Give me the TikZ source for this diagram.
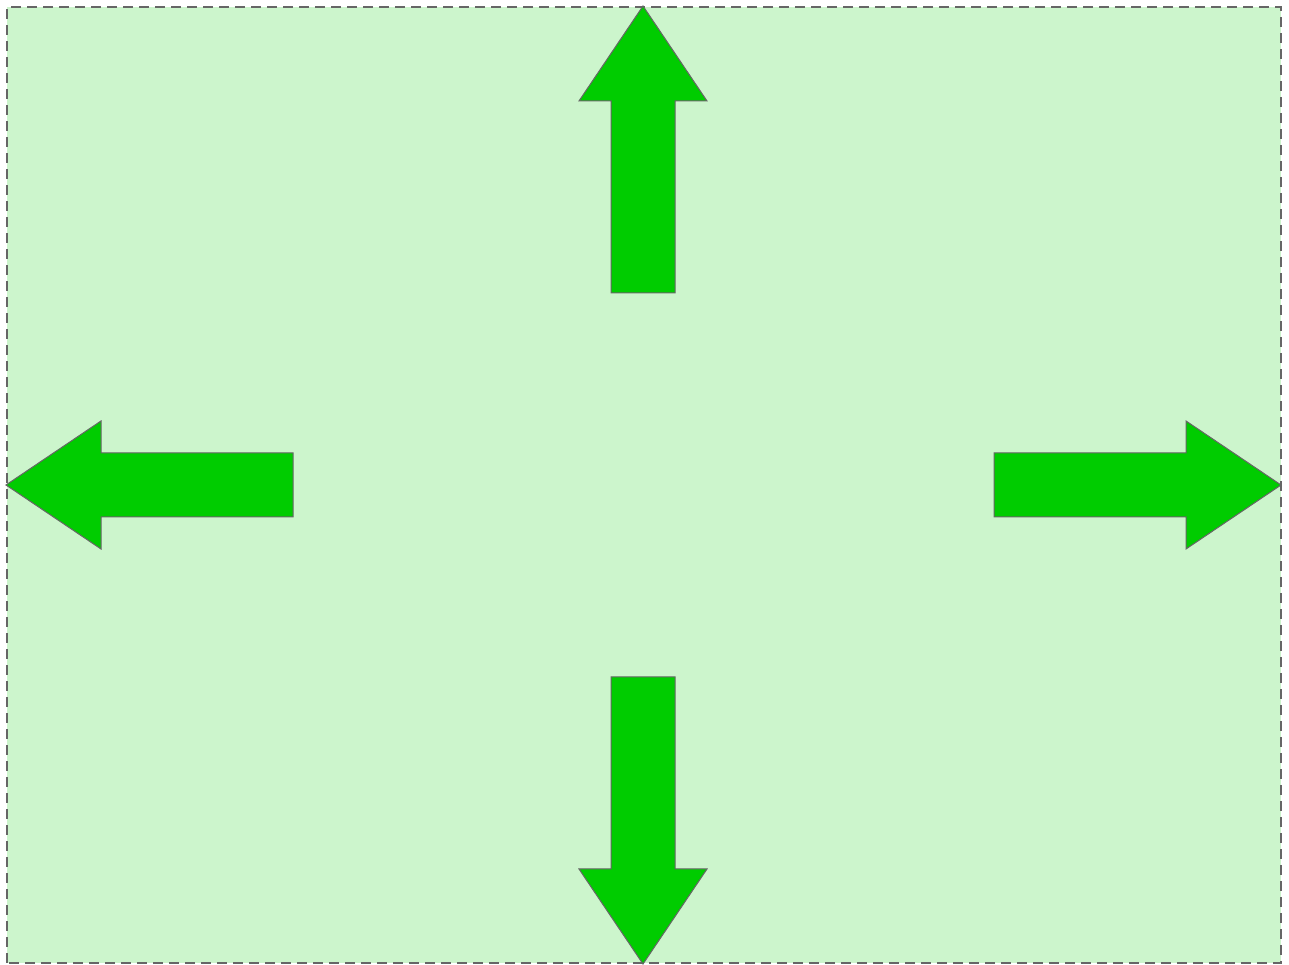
\documentclass[tikz,border=0pt]{standalone}
\usepackage{xcolor}
\usepackage{tikz}
\definecolor{canvasgreen}{RGB}{204,245,204}
\definecolor{arrowgreen}{RGB}{0,204,0}
\begin{document}
\begin{tikzpicture}[x=1pt,y=1pt]
\tikzstyle{canvas}=[fill=canvasgreen, draw=black!60, dash pattern=on 10pt off 6pt, line width=1.2pt]
\tikzstyle{blockarrow}=[fill=arrowgreen, draw=black!60, line width=1pt, line join=miter]
\useasboundingbox (0,0) rectangle (1289,965);
\draw[canvas] (7,2) rectangle (1281,958);
\foreach \px/\py/\ang in {994/480/0, 643/672/90, 293/480/180, 643/288/270}
  \draw[blockarrow, shift={(\px,\py)}, rotate=\ang] (0,-32) -- (192,-32) -- (192,-64) -- (287,0) -- (192,64) -- (192,32) -- (0,32) -- cycle;
\end{tikzpicture}
\end{document}
